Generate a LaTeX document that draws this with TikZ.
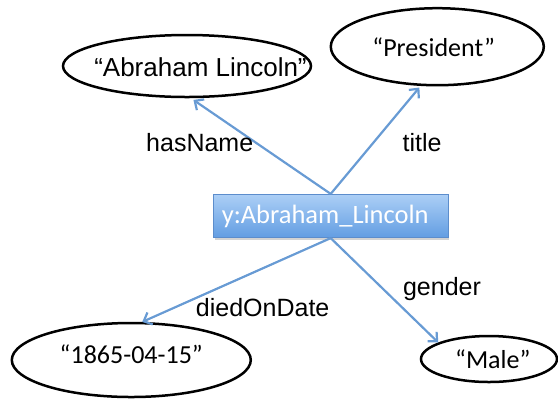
\documentclass[tikz,border=0pt]{standalone}
\usepackage{fontspec}
\setmainfont{Liberation Sans}
\newfontfamily\calibri{Carlito}
\usetikzlibrary{arrows.meta,shapes.geometric,shadows}
\definecolor{linkblue}{RGB}{104,155,212}
\definecolor{boxedge}{RGB}{92,141,204}
\definecolor{boxtop}{RGB}{172,207,246}
\definecolor{boxbot}{RGB}{98,157,226}
\tikzset{
  literal/.style={ellipse, draw=black, line width=2.5bp, inner sep=0pt},
  littext/.style={font=\calibri\fontsize{26bp}{30bp}\selectfont, inner sep=0pt, anchor=base},
  proplabel/.style={font=\fontsize{25bp}{29bp}\selectfont, inner sep=0pt, anchor=base},
  resource/.style={rectangle, draw=boxedge, line width=0.8bp, top color=boxtop,
    bottom color=boxbot, inner sep=0pt,
    drop shadow={opacity=0.35, shadow xshift=1.2bp, shadow yshift=-1.8bp}},
  restext/.style={text=white, font=\calibri\fontsize{26.5bp}{30bp}\selectfont,
    inner sep=0pt, anchor=base},
  link/.style={draw=linkblue, line width=2.2bp,
    -{Straight Barb[length=7bp, width=13bp, line width=2.2bp]}}
}
\begin{document}
\begin{tikzpicture}[x=1bp, y=-1bp]
  \useasboundingbox (0,0) rectangle (558,398);
  % literal values
  \node[literal, minimum width=248bp, minimum height=62bp] (name) at (187,66) {};
  \node[proplabel, font=\fontsize{26bp}{30bp}\selectfont] (nametext) at (200.5,76) {“Abraham Lincoln”};
  \node[literal, minimum width=213bp, minimum height=77bp] (title) at (437.3,46.7) {};
  \node[littext] (titletext) at (433.7,56.7) {“President”};
  \node[literal, minimum width=239bp, minimum height=74bp] (date) at (131.3,360) {};
  \node[littext] (datetext) at (131.3,363.3) {“1865-04-15”};
  \node[literal, minimum width=136bp, minimum height=46bp] (gender) at (489,359) {};
  \node[littext] (gendertext) at (492.8,368.3) {“Male”};
  % the resource
  \node[resource, minimum width=234.7bp, minimum height=43.4bp] (res) at (330.7,216) {};
  \node[restext] (restext) at (325.2,223) {y:Abraham\_Lincoln};
  % properties
  \draw[link, shorten >=3bp] (res.north) -- (name.277);
  \draw[link, shorten >=2bp] (res.north) -- (title.247);
  \draw[link] (res.south) -- (date.74);
  \draw[link] (res.south) -- (gender.162);
  % property names
  \node[proplabel] (l1) at (199.7,151.7) {hasName};
  \node[proplabel] (l2) at (422,151.7) {title};
  \node[proplabel] (l3) at (262.7,316) {diedOnDate};
  \node[proplabel] (l4) at (442,295) {gender};
\end{tikzpicture}
\end{document}
